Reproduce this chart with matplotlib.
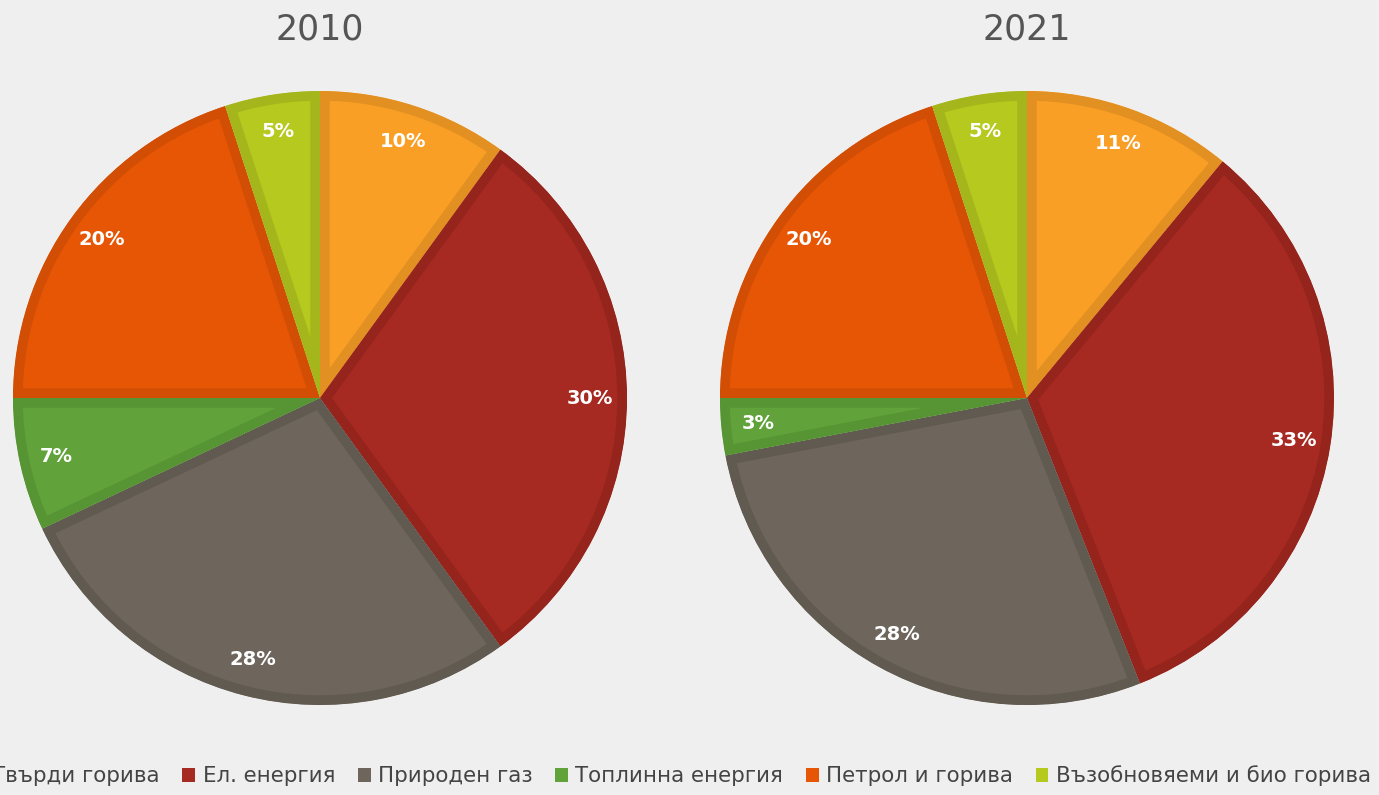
import matplotlib.pyplot as plt
from matplotlib.patches import Patch

# Данни (дялове, %)
categories = ['Твърди горива', 'Ел. енергия', 'Природен газ',
              'Топлинна енергия', 'Петрол и горива', 'Възобновяеми и био горива']
shares_2010 = [10, 30, 28, 7, 20, 5]
shares_2021 = [11, 33, 28, 3, 20, 5]

fill_colors = ['#F99F25', '#A62A21', '#6E665C', '#61A23A', '#E75605', '#B5C91E']
edge_colors = ['#E39022', '#95241D', '#615A51', '#579433', '#D24E04', '#A4B61B']

bg = '#EFEFEF'
fig = plt.figure(figsize=(13.79, 7.95), dpi=100, facecolor=bg)

W, H = 1379, 795


def draw_pie(cx, cy, r, values, title):
    ax = fig.add_axes([(cx - r) / W, (H - cy - r) / H, 2 * r / W, 2 * r / H])
    ax.set_facecolor('none')
    wedges, texts = ax.pie(values, colors=fill_colors, startangle=90, counterclock=False,
                           labels=[f'{v}%' for v in values], labeldistance=0.88,
                           textprops=dict(color='white', fontsize=14, fontweight='bold'))
    for w, ec in zip(wedges, edge_colors):
        w.set_edgecolor(ec)
        w.set_linewidth(14)
        w.set_joinstyle('miter')
        w.set_clip_on(True)
        w.set_clip_path(w)  # рамката остава само вътре в резена
    for t in texts:
        t.set_ha('center')
        t.set_va('center')
    ax.set_xlim(-1, 1)
    ax.set_ylim(-1, 1)
    ax.set_aspect('equal')
    fig.text(cx / W, 1 - 30 / H, title, ha='center', va='center',
             fontsize=25, color='#555555')


draw_pie(320, 398, 307, shares_2010, '2010')
draw_pie(1027, 398, 307, shares_2021, '2021')

handles = [Patch(facecolor=c, edgecolor='none') for c in fill_colors]
fig.legend(handles, categories, loc='center right', bbox_to_anchor=(1371 / W, 19 / H),
           ncol=6, frameon=False, handlelength=0.6, handleheight=0.6,
           handletextpad=0.35, columnspacing=1.05, labelcolor='#444444',
           borderpad=0, borderaxespad=0,
           prop=dict(family=['DejaVu Sans'], size=15.4))

fig.savefig('out.png', dpi=100, facecolor=bg)
